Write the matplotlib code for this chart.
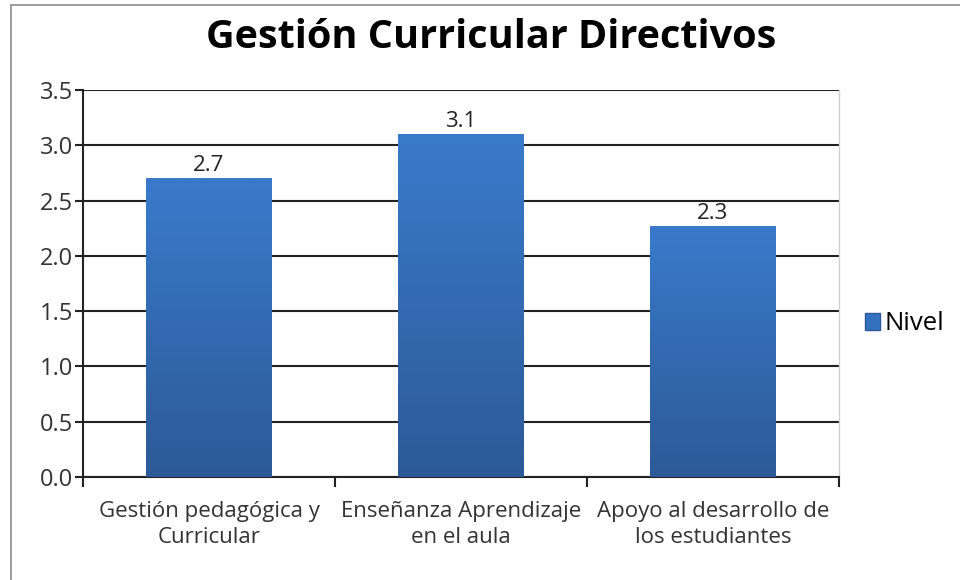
import matplotlib.pyplot as plt
import numpy as np
from matplotlib.colors import LinearSegmentedColormap
from matplotlib.patches import Rectangle, Patch

# datos
categorias = ['Gestión pedagógica y\nCurricular', 'Enseñanza Aprendizaje\nen el aula',
              'Apoyo al desarrollo de\nlos estudiantes']
nivel = [2.7, 3.1, 2.27]
yticks = [0.0, 0.5, 1.0, 1.5, 2.0, 2.5, 3.0, 3.5]

plt.rcParams['font.family'] = ['Open Sans', 'DejaVu Sans']

fig = plt.figure(figsize=(9.6, 5.8), dpi=100)
ax = fig.add_axes([83 / 960, 1 - 477 / 580, 756 / 960, 387 / 580])

x = np.arange(len(categorias))
bars = ax.bar(x, nivel, width=0.5, color='#3472c0', zorder=3)

# degradado vertical en cada barra
cmap = LinearSegmentedColormap.from_list('azul', ['#2c5a97', '#3a7acb'])
grad = np.linspace(0, 1, 256).reshape(-1, 1)
for b in bars:
    x0, w, h = b.get_x(), b.get_width(), b.get_height()
    im = ax.imshow(grad, cmap=cmap, origin='lower', aspect='auto',
                   extent=[x0, x0 + w, 0, h], zorder=3.5)
    im.set_clip_path(b)
    ax.text(x0 + w / 2, h + 0.02, f'{h:.1f}', ha='center', va='bottom',
            fontsize=16, color='#222222')

ax.set_xlim(-0.5, 2.5)
ax.set_ylim(0, 3.5)
ax.set_yticks(yticks)
ax.set_yticklabels([f'{v:.1f}' for v in yticks])
ax.set_xticks([-0.5, 0.5, 1.5, 2.5])
ax.set_xticklabels([])
ax.set_xticks(x, minor=True)
ax.set_xticklabels(categorias, minor=True, fontsize=16, color='#333333', linespacing=1.35)
ax.tick_params(axis='x', which='minor', length=0, pad=17)
ax.tick_params(axis='x', which='major', length=7, width=1.5, direction='out', color='#222222')
ax.tick_params(axis='y', length=6, width=1.5, direction='out', color='#222222',
               labelsize=17, labelcolor='#333333', pad=1)

ax.grid(axis='y', color='#222222', linewidth=1.5, zorder=0)
ax.set_axisbelow(True)
for s in ['left', 'bottom']:
    ax.spines[s].set_color('#222222')
    ax.spines[s].set_linewidth(1.5)
ax.spines['top'].set_visible(False)
ax.spines['right'].set_color('#d0d0d0')
ax.spines['right'].set_linewidth(1)

fig.text(491 / 960, 1 - 37 / 580, 'Gestión Curricular Directivos', ha='center', va='center',
         fontsize=28.5, fontweight='bold')

handle = Patch(facecolor='#3472c0', edgecolor='#2c5a97', label='Nivel')
fig.legend(handles=[handle], loc='center left', bbox_to_anchor=(865 / 960, 1 - 324 / 580),
           frameon=False, fontsize=18.5, handlelength=0.6, handleheight=0.6, handletextpad=0.15,
           borderpad=0, borderaxespad=0)

# borde del gráfico
fig.patches.append(Rectangle((11 / 960, -0.01), 1.0, 1 - 5 / 580 + 0.01, transform=fig.transFigure,
                             fill=False, edgecolor='#8a8a8a', linewidth=1.2))

fig.savefig('out.png', dpi=100)
